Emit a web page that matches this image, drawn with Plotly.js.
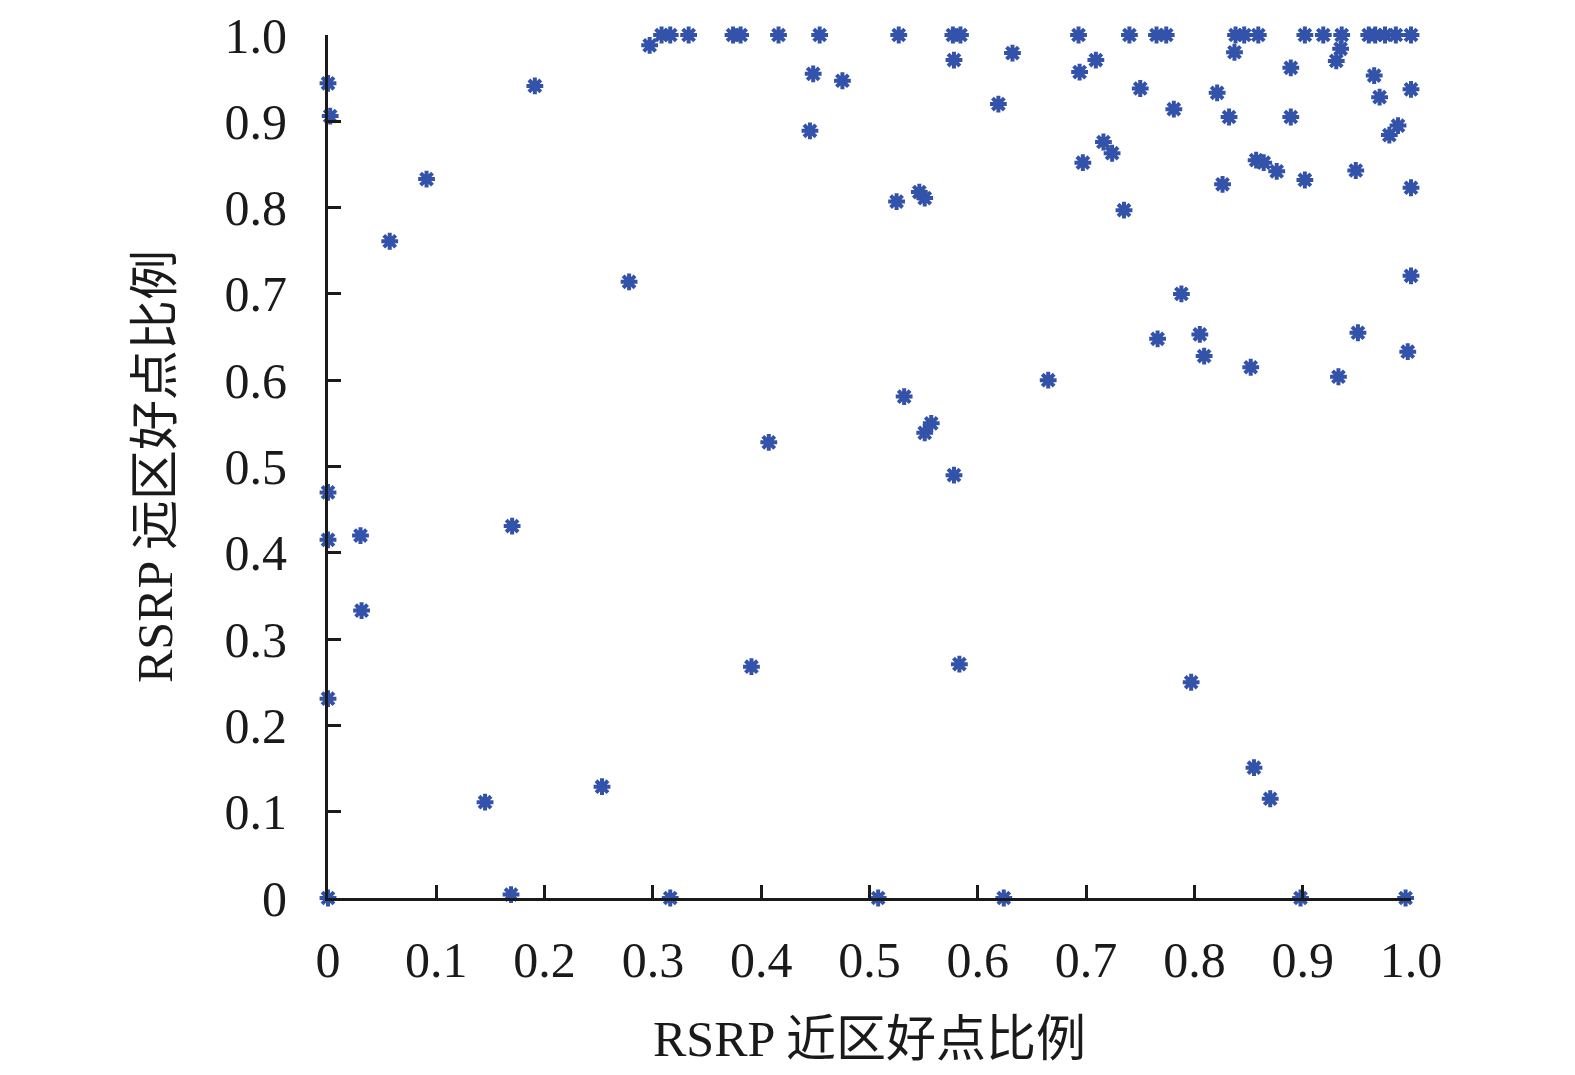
<!DOCTYPE html>
<html>
<head>
<meta charset="utf-8">
<script src="https://cdn.plot.ly/plotly-3.0.1.min.js"></script>
<style>html,body{margin:0;padding:0;background:#fff;}#chart{width:1575px;height:1075px;}</style>
</head>
<body>
<div id="chart"></div>
<script>
// RSRP 近区好点比例 (x) vs RSRP 远区好点比例 (y)
const nearRatio = [
  0.000,0.002,0.000,0.000,0.000,0.000,0.030,0.031,0.057,0.091,
  0.145,0.170,0.169,0.191,0.253,0.278,0.297,0.308,0.316,0.316,
  0.333,0.374,0.381,0.391,0.407,0.416,0.445,0.448,0.454,0.475,
  0.508,0.525,0.527,0.532,0.546,0.551,0.551,0.557,0.578,0.578,
  0.577,0.584,0.583,0.619,0.624,0.632,0.665,0.693,0.694,0.697,
  0.709,0.716,0.724,0.735,0.740,0.750,0.766,0.765,0.774,0.781,
  0.788,0.797,0.805,0.809,0.821,0.826,0.832,0.837,0.838,0.846,
  0.852,0.855,0.857,0.859,0.864,0.870,0.876,0.889,0.889,0.898,
  0.902,0.902,0.919,0.931,0.933,0.935,0.936,0.949,0.951,0.961,
  0.966,0.967,0.971,0.976,0.980,0.986,0.988,0.995,0.997,1.000,
  1.000,1.000,1.000
];
const farRatio = [
  0.944,0.906,0.470,0.415,0.231,0.000,0.420,0.333,0.761,0.833,
  0.111,0.431,0.004,0.941,0.129,0.714,0.988,1.000,1.000,0.000,
  1.000,1.000,1.000,0.268,0.528,1.000,0.889,0.955,1.000,0.947,
  0.000,0.807,1.000,0.581,0.818,0.811,0.539,0.550,0.490,0.971,
  1.000,1.000,0.271,0.920,0.000,0.979,0.600,1.000,0.957,0.852,
  0.971,0.876,0.863,0.797,1.000,0.938,0.648,1.000,1.000,0.914,
  0.700,0.250,0.653,0.628,0.933,0.827,0.905,0.980,1.000,1.000,
  0.615,0.151,0.855,1.000,0.852,0.115,0.842,0.962,0.905,0.000,
  0.832,1.000,1.000,0.970,0.604,0.984,1.000,0.843,0.655,1.000,
  0.953,1.000,0.928,1.000,0.884,1.000,0.895,0.000,0.633,0.937,
  0.823,0.721,1.000
];
const tickVals = [0,0.1,0.2,0.3,0.4,0.5,0.6,0.7,0.8,0.9,1.0];
const tickText = ["0","0.1","0.2","0.3","0.4","0.5","0.6","0.7","0.8","0.9","1.0"];
const xTitle = "RSRP 近区好点比例";
const yTitle = "RSRP 远区好点比例";

const fontFam = "'Liberation Serif', 'Times New Roman', Times, 'Noto Sans CJK SC', serif";
const axisCommon = {
  range:[0,1], tickmode:'array', tickvals:tickVals, ticktext:tickText,
  showgrid:false, zeroline:false, showline:true, linewidth:3, linecolor:'#1a1a1a',
  ticks:'inside', ticklen:13, tickwidth:3, tickcolor:'#1a1a1a',
  tickfont:{family:fontFam, size:50, color:'#1a1a1a'},
  fixedrange:true
};
const trace = {
  x: nearRatio, y: farRatio, type:'scatter', mode:'markers',
  cliponaxis:false,
  marker:{symbol:'asterisk-open', size:14, color:'#3352aa', line:{color:'#3352aa', width:4}},
  hoverinfo:'skip'
};
const layout = {
  width:1575, height:1075,
  margin:{l:328, r:164, t:35, b:177},
  paper_bgcolor:'#fff', plot_bgcolor:'#fff',
  showlegend:false,
  xaxis: Object.assign({}, axisCommon, {
    ticklabelstandoff:16,
    title:{text:xTitle, font:{family:fontFam, size:50, color:'#1a1a1a'}, standoff:34}
  }),
  yaxis: Object.assign({}, axisCommon, {
    ticklabelstandoff:28,
    title:{text:yTitle, font:{family:fontFam, size:50, color:'#1a1a1a'}, standoff:37}
  })
};
Plotly.newPlot('chart', [trace], layout, {displayModeBar:false, staticPlot:true});
</script>
</body>
</html>
